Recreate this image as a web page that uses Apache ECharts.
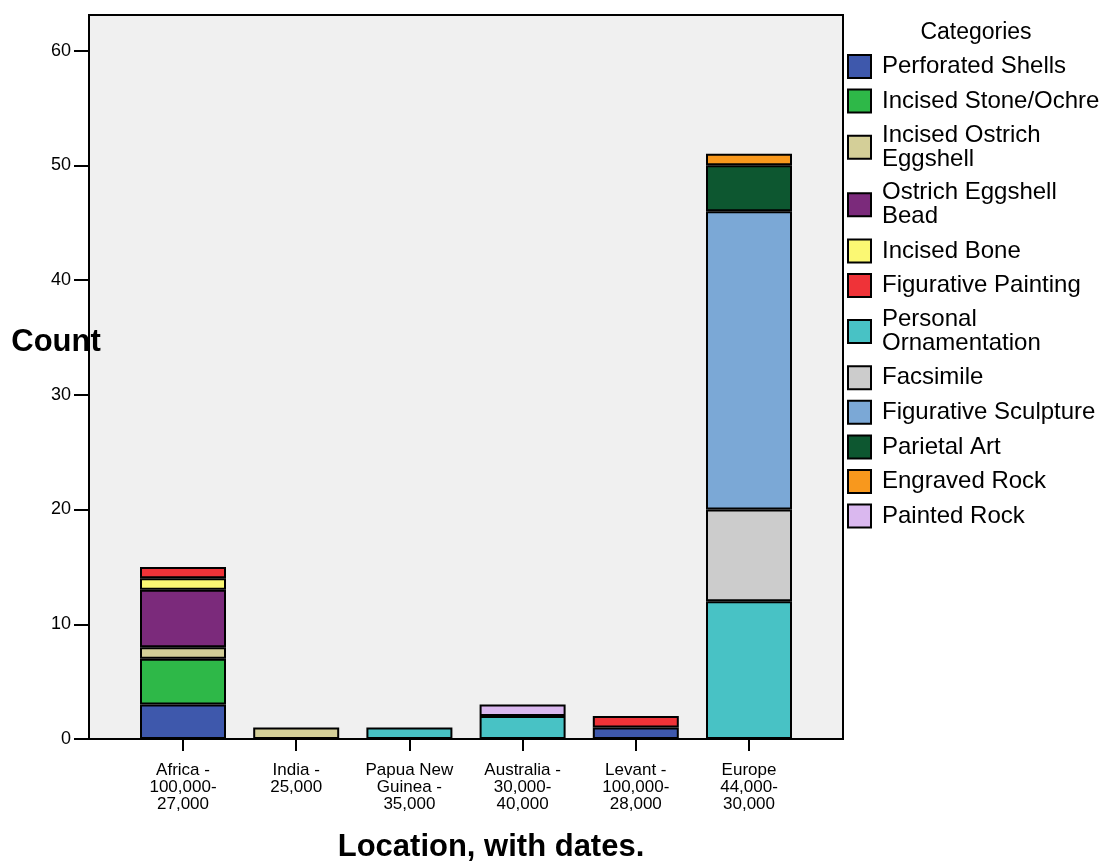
<!DOCTYPE html>
<html>
<head>
<meta charset="utf-8">
<script src="https://cdn.jsdelivr.net/npm/echarts@6/dist/echarts.min.js"></script>
<style>
html,body{margin:0;padding:0;background:#fff;}
#chart{width:1099px;height:862px;}
</style>
</head>
<body>
<div id="chart"></div>
<script>
const categories = ['Africa -\n100,000-\n27,000', 'India -\n25,000', 'Papua New\nGuinea -\n35,000', 'Australia -\n30,000-\n40,000', 'Levant -\n100,000-\n28,000', 'Europe\n44,000-\n30,000'];
const seriesNames = ['Perforated Shells', 'Incised Stone/Ochre', 'Incised Ostrich\nEggshell', 'Ostrich Eggshell\nBead', 'Incised Bone', 'Figurative Painting', 'Personal\nOrnamentation', 'Facsimile', 'Figurative Sculpture', 'Parietal Art', 'Engraved Rock', 'Painted Rock'];
const perforatedShells       = [3, 0, 0, 0, 1, 0];
const incisedStoneOchre      = [4, 0, 0, 0, 0, 0];
const incisedOstrichEggshell = [1, 1, 0, 0, 0, 0];
const ostrichEggshellBead    = [5, 0, 0, 0, 0, 0];
const incisedBone            = [1, 0, 0, 0, 0, 0];
const figurativePainting     = [1, 0, 0, 0, 1, 0];
const personalOrnamentation  = [0, 0, 1, 2, 0, 12];
const facsimile              = [0, 0, 0, 0, 0, 8];
const figurativeSculpture    = [0, 0, 0, 0, 0, 26];
const parietalArt            = [0, 0, 0, 0, 0, 4];
const engravedRock           = [0, 0, 0, 0, 0, 1];
const paintedRock            = [0, 0, 0, 1, 0, 0];
const yTickValues = [0, 10, 20, 30, 40, 50, 60];
const colors = ['#3e58ac', '#2eb848', '#d4cf98', '#7b2a7b', '#fbf873', '#ef3338', '#48c2c5', '#cccccc', '#7ba8d6', '#0d5730', '#f8981d', '#dab8ef'];

const seriesValues = [perforatedShells, incisedStoneOchre, incisedOstrichEggshell, ostrichEggshellBead, incisedBone, figurativePainting, personalOrnamentation, facsimile, figurativeSculpture, parietalArt, engravedRock, paintedRock];

const FONT = 'Liberation Sans, Arial, Helvetica, sans-serif';
const chart = echarts.init(document.getElementById('chart'));

const series = seriesNames.map((name, i) => ({
  name: name,
  type: 'bar',
  stack: 'total',
  xAxisIndex: 1,
  yAxisIndex: 1,
  barWidth: 86,
  itemStyle: { color: colors[i], borderColor: '#000', borderWidth: 2 },
  emphasis: { disabled: true },
  data: seriesValues[i].map(v => v === 0 ? null : v)
}));

const option = {
  animation: false,
  backgroundColor: '#fff',
  textStyle: { fontFamily: FONT },
  grid: [
    { left: 89, right: 256, top: 15, bottom: 123, show: true, backgroundColor: '#f0f0f0', borderColor: '#000', borderWidth: 2, containLabel: false },
    { left: 126.4, right: 293.4, top: 15, bottom: 123, containLabel: false }
  ],
  xAxis: [
    { type: 'category', gridIndex: 0, data: categories, show: false },
    {
      type: 'category', gridIndex: 1, data: categories,
      axisLine: { show: false },
      axisTick: { show: true, alignWithLabel: true, length: 12, lineStyle: { color: '#000', width: 2 } },
      axisLabel: { color: '#000', fontSize: 17, lineHeight: 17, margin: 23, fontFamily: FONT, interval: 0 }
    }
  ],
  yAxis: [
    {
      type: 'value', gridIndex: 0, min: 0, max: 63.1, interval: 10,
      axisLine: { show: false },
      splitLine: { show: false },
      axisTick: { show: true, length: 15, customValues: yTickValues, lineStyle: { color: '#000', width: 2 } },
      axisLabel: { color: '#000', fontSize: 18, margin: 18, fontFamily: FONT, customValues: yTickValues }
    },
    { type: 'value', gridIndex: 1, min: 0, max: 63.1, interval: 10, show: false, splitLine: { show: false } }
  ],
  legend: {
    orient: 'vertical',
    left: 847,
    top: 54,
    padding: 0,
    itemWidth: 23,
    itemHeight: 23,
    itemGap: 9.6,
    icon: 'rect',
    data: seriesNames,
    selectedMode: false,
    itemStyle: { borderColor: '#000', borderWidth: 2 },
    textStyle: { color: '#000', fontSize: 24, lineHeight: 24, fontFamily: FONT, padding: [0, 0, 0, 6] }
  },
  graphic: [
    { type: 'text', x: 976, y: 33, z: 10, style: { text: 'Categories', font: '23px ' + FONT, fill: '#000', align: 'center', verticalAlign: 'middle' } },
    { type: 'text', x: 56, y: 342, z: 0, style: { text: 'Count', font: 'bold 31px ' + FONT, fill: '#000', align: 'center', verticalAlign: 'middle' } },
    { type: 'text', x: 491, y: 847, z: 10, style: { text: 'Location, with dates.', font: 'bold 31px ' + FONT, fill: '#000', align: 'center', verticalAlign: 'middle' } }
  ],
  series: series
};
chart.setOption(option);
</script>
</body>
</html>
